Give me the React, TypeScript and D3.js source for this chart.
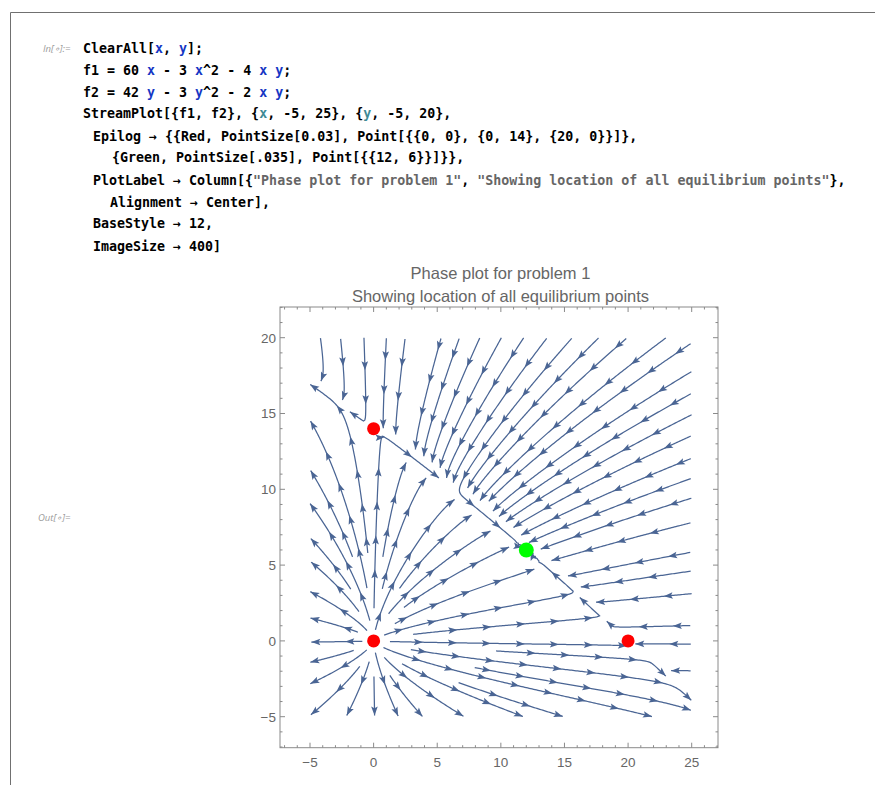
import React, { useMemo } from 'react';
import * as d3 from 'd3';

// vector field coefficients, as typed in the notebook
// f1 = 60 x - 3 x^2 - 4 x y ; f2 = 42 y - 3 y^2 - 2 x y
const f1Coef = [60, -3, -4];
const f2Coef = [42, -3, -2];

const xRange = [-5, 25];
const yRange = [-5, 20];
const xMajor = [-5, 0, 5, 10, 15, 20, 25];
const yMajor = [-5, 0, 5, 10, 15, 20];

const redPoints = [[0, 0], [0, 14], [20, 0]];
const greenPoints = [[12, 6]];
const sourcePoints = [[0, 0]];

const titleLines = ['Phase plot for problem 1', 'Showing location of all equilibrium points'];

// first seed for the even streamline placement, then fallback seeds
const firstSeed = [8, 12];
const seedXs = [-4.5, -2, 0.5, 3, 5.5, 8, 10.5, 13, 15.5, 18, 20.5, 23, 24.5];
const seedYs = [-4.5, -2, 0.5, 3, 5.5, 8, 10.5, 13, 15.5, 18, 19.5];

const K = '#000';
const B = '#1536c4';
const T = '#3f8a95';
const S = '#666';
const codeLines: [string, string][][] = [
  [['ClearAll[', K], ['x', B], [', ', K], ['y', B], ['];', K]],
  [['f1 = 60 ', K], ['x', B], [' - 3 ', K], ['x', B], ['^2 - 4 ', K], ['x', B], [' ', K], ['y', B], [';', K]],
  [['f2 = 42 ', K], ['y', B], [' - 3 ', K], ['y', B], ['^2 - 2 ', K], ['x', B], [' ', K], ['y', B], [';', K]],
  [['StreamPlot[{f1, f2}, {', K], ['x', T], [', -5, 25}, {', K], ['y', T], [', -5, 20},', K]],
  [['Epilog → {{Red, PointSize[0.03], Point[{{0, 0}, {0, 14}, {20, 0}}]},', K]],
  [['{Green, PointSize[.035], Point[{{12, 6}}]}},', K]],
  [['PlotLabel → Column[{', K], ['"Phase plot for problem 1"', S], [', ', K], ['"Showing location of all equilibrium points"', S], ['},', K]],
  [['Alignment → Center],', K]],
  [['BaseStyle → 12,', K]],
  [['ImageSize → 400]', K]],
];
const codeIndent = [83, 83, 83, 83, 93, 112, 93, 110, 93, 93];
const codeBase = [52.5, 74.5, 96.5, 118, 140.5, 162, 184.5, 206.5, 228, 250.5];

const xs = d3.scaleLinear().domain(xRange).range([310, 691.7]);
const ys = d3.scaleLinear().domain(yRange).range([716.7, 337.7]);

const frame = { left: 280, right: 718, top: 307, bottom: 747.7 };
const lineColor = '#4a6594';

function f1(x: number, y: number) {
  return f1Coef[0] * x + f1Coef[1] * x * x + f1Coef[2] * x * y;
}
function f2(x: number, y: number) {
  return f2Coef[0] * y + f2Coef[1] * y * y + f2Coef[2] * x * y;
}

type P = [number, number];

function buildStreams() {
  const kx = xs(1) - xs(0);
  const ky = ys(0) - ys(1);
  const x0 = xs(xRange[0]), x1 = xs(xRange[1]);
  const y0 = ys(yRange[1]), y1 = ys(yRange[0]);
  const eqPx = [...redPoints, ...greenPoints].map(([a, b]) => [xs(a), ys(b)]);
  const srcPx = sourcePoints.map(([a, b]) => [xs(a), ys(b)]);
  const dsep = 18.5, dtest = 7.5, h = 1.5;
  const grid = new Map<string, { x: number; y: number; id: number }[]>();

  const dir = (px: number, py: number): P | null => {
    const x = xs.invert(px), y = ys.invert(py);
    const dx = f1(x, y) * kx, dy = -f2(x, y) * ky;
    const m = Math.hypot(dx, dy);
    if (m < 1e-9) return null;
    return [dx / m, dy / m];
  };
  const near = (px: number, py: number, d: number, id: number) => {
    const ci = Math.floor(px / dsep), cj = Math.floor(py / dsep);
    for (let i = ci - 1; i <= ci + 1; i++)
      for (let j = cj - 1; j <= cj + 1; j++) {
        const list = grid.get(i + ',' + j);
        if (!list) continue;
        for (const p of list) {
          if (p.id === id) continue;
          const ddx = p.x - px, ddy = p.y - py;
          if (ddx * ddx + ddy * ddy < d * d) return true;
        }
      }
    return false;
  };
  const inside = (px: number, py: number) => px >= x0 && px <= x1 && py >= y0 && py <= y1;
  const nearEq = (px: number, py: number, r: number) => eqPx.some(e => Math.hypot(e[0] - px, e[1] - py) < r);
  const nearSrc = (px: number, py: number, r: number) => srcPx.some(e => Math.hypot(e[0] - px, e[1] - py) < r);

  const trace = (sx: number, sy: number, sign: number, id: number) => {
    const pts: P[] = [[sx, sy]];
    let px = sx, py = sy;
    for (let k = 0; k < 3000; k++) {
      const d1 = dir(px, py);
      if (!d1) break;
      const d2 = dir(px + sign * d1[0] * h / 2, py + sign * d1[1] * h / 2);
      if (!d2) break;
      const nx = px + sign * d2[0] * h, ny = py + sign * d2[1] * h;
      if (!inside(nx, ny)) break;
      if (sign < 0 && nearSrc(nx, ny, 11)) break;
      if (nearEq(nx, ny, 5)) { pts.push([nx, ny]); break; }
      if (near(nx, ny, dtest, id)) break;
      pts.push([nx, ny]);
      px = nx; py = ny;
    }
    return pts;
  };

  const lines: P[][] = [];
  const tryLine = (sx: number, sy: number) => {
    if (!inside(sx, sy) || nearEq(sx, sy, 11) || near(sx, sy, dsep * 0.95, -1)) return null;
    const id = lines.length;
    const fw = trace(sx, sy, 1, id);
    const bw = trace(sx, sy, -1, id);
    const pts = [...bw.reverse(), ...fw.slice(1)];
    if (pts.length < 10) return null;
    lines.push(pts);
    for (const [x, y] of pts) {
      const key = Math.floor(x / dsep) + ',' + Math.floor(y / dsep);
      if (!grid.has(key)) grid.set(key, []);
      grid.get(key)!.push({ x, y, id });
    }
    return pts;
  };

  const queue: P[] = [[xs(firstSeed[0]), ys(firstSeed[1])]];
  const run = () => {
    while (queue.length) {
      const [sx, sy] = queue.shift()!;
      const pts = tryLine(sx, sy);
      if (!pts) continue;
      for (let i = 2; i < pts.length - 2; i += 4) {
        const a = pts[i - 1], b = pts[i + 1];
        const tx = b[0] - a[0], ty = b[1] - a[1];
        const m = Math.hypot(tx, ty) || 1;
        const nx = -ty / m, ny = tx / m;
        queue.push([pts[i][0] + nx * dsep, pts[i][1] + ny * dsep]);
        queue.push([pts[i][0] - nx * dsep, pts[i][1] - ny * dsep]);
      }
    }
  };
  run();
  for (const sy of seedYs)
    for (const sx of seedXs) {
      queue.push([xs(sx), ys(sy)]);
      run();
    }
  return lines;
}

function arrowsFor(pts: P[], gap: number) {
  const cum = [0];
  for (let i = 1; i < pts.length; i++)
    cum.push(cum[i - 1] + Math.hypot(pts[i][0] - pts[i - 1][0], pts[i][1] - pts[i - 1][1]));
  const L = cum[cum.length - 1];
  const out: { p: P; d: P }[] = [];
  let i = pts.length - 1;
  for (let s = L; s > 12; s -= gap) {
    while (i > 0 && cum[i - 1] > s) i--;
    const a = pts[Math.max(0, i - 3)], b = pts[i];
    const m = Math.hypot(b[0] - a[0], b[1] - a[1]) || 1;
    const t = i > 0 ? (s - cum[i - 1]) / (cum[i] - cum[i - 1] || 1) : 0;
    const prev = pts[Math.max(0, i - 1)];
    const p: P = [prev[0] + (b[0] - prev[0]) * t, prev[1] + (b[1] - prev[1]) * t];
    out.push({ p, d: [(b[0] - a[0]) / m, (b[1] - a[1]) / m] });
  }
  return out;
}

function arrowPath(p: P, d: P) {
  const len = 9, w = 3.3;
  const n: P = [-d[1], d[0]];
  const bx = p[0] - d[0] * len, by = p[1] - d[1] * len;
  const cx = p[0] - d[0] * len * 0.8, cy = p[1] - d[1] * len * 0.8;
  return `M${p[0]},${p[1]}L${bx + n[0] * w},${by + n[1] * w}L${cx},${cy}L${bx - n[0] * w},${by - n[1] * w}Z`;
}

export default function App() {
  const streams = useMemo(() => buildStreams(), []);
  const line = d3.line<P>().x(d => d[0]).y(d => d[1]);
  const xMinor = d3.range(-7, 28).filter(v => v % 5 !== 0);
  const yMinor = d3.range(-7, 23).filter(v => v % 5 !== 0);
  const tickFont = { fontFamily: '"Liberation Sans", Arial, sans-serif', fontSize: 13.5, fill: '#666' };
  const fc = '#8a8a8a';

  return (
    <svg width={875} height={785} style={{ position: 'absolute', left: 0, top: 0, background: '#fff' }}>
      <rect width={875} height={785} fill="#fff" />
      <path d="M10.5,785V12.5H875" fill="none" stroke="#707070" strokeWidth={1} />

      <text x={43} y={51.5} fontFamily='"Open Sans", "Liberation Sans", sans-serif' fontStyle="italic" fontSize={9.5} fill="#9a9a9a">In[∘]:=</text>
      <text x={38} y={520.5} fontFamily='"Open Sans", "Liberation Sans", sans-serif' fontStyle="italic" fontSize={9.5} fill="#9a9a9a">Out[∘]=</text>

      {codeLines.map((parts, i) => (
        <text key={i} x={codeIndent[i]} y={codeBase[i]} fontFamily='"DejaVu Sans Mono", "Liberation Mono", monospace' fontWeight="bold" fontSize={13.3} xmlSpace="preserve" style={{ whiteSpace: 'pre' }}>
          {parts.map(([t, c], j) => <tspan key={j} fill={c}>{t}</tspan>)}
        </text>
      ))}

      {titleLines.map((t, i) => (
        <text key={t} x={500.5} y={279 + i * 23} textAnchor="middle" fontFamily='"Liberation Sans", Arial, sans-serif' fontSize={16.5} fill="#666">{t}</text>
      ))}

      <rect x={frame.left} y={frame.top} width={frame.right - frame.left} height={frame.bottom - frame.top} fill="none" stroke={fc} strokeWidth={1} />
      {xMajor.map(v => (
        <g key={'xm' + v}>
          <line x1={xs(v)} x2={xs(v)} y1={frame.bottom} y2={frame.bottom - 5} stroke={fc} />
          <line x1={xs(v)} x2={xs(v)} y1={frame.top} y2={frame.top + 5} stroke={fc} />
          <text x={xs(v)} y={767} textAnchor="middle" {...tickFont}>{v < 0 ? '−' + Math.abs(v) : v}</text>
        </g>
      ))}
      {xMinor.map(v => (
        <g key={'xn' + v}>
          <line x1={xs(v)} x2={xs(v)} y1={frame.bottom} y2={frame.bottom - 2.5} stroke={fc} />
          <line x1={xs(v)} x2={xs(v)} y1={frame.top} y2={frame.top + 2.5} stroke={fc} />
        </g>
      ))}
      {yMajor.map(v => (
        <g key={'ym' + v}>
          <line x1={frame.left} x2={frame.left + 5} y1={ys(v)} y2={ys(v)} stroke={fc} />
          <line x1={frame.right} x2={frame.right - 5} y1={ys(v)} y2={ys(v)} stroke={fc} />
          <text x={276} y={ys(v)} dy="0.36em" textAnchor="end" {...tickFont}>{v < 0 ? '−' + Math.abs(v) : v}</text>
        </g>
      ))}
      {yMinor.map(v => (
        <g key={'yn' + v}>
          <line x1={frame.left} x2={frame.left + 2.5} y1={ys(v)} y2={ys(v)} stroke={fc} />
          <line x1={frame.right} x2={frame.right - 2.5} y1={ys(v)} y2={ys(v)} stroke={fc} />
        </g>
      ))}

      <g>
        {streams.map((pts, i) => (
          <path key={i} d={line(pts) || ''} fill="none" stroke={lineColor} strokeWidth={1.25} />
        ))}
        {streams.map((pts, i) =>
          arrowsFor(pts, 34).map((a, j) => (
            <path key={i + '-' + j} d={arrowPath(a.p, a.d)} fill={lineColor} />
          ))
        )}
      </g>

      {redPoints.map(([a, b]) => (
        <circle key={a + ',' + b} cx={xs(a)} cy={ys(b)} r={6.5} fill="#ff0000" />
      ))}
      {greenPoints.map(([a, b]) => (
        <circle key={a + ',' + b} cx={xs(a)} cy={ys(b)} r={7.5} fill="#00ff00" />
      ))}
    </svg>
  );
}
